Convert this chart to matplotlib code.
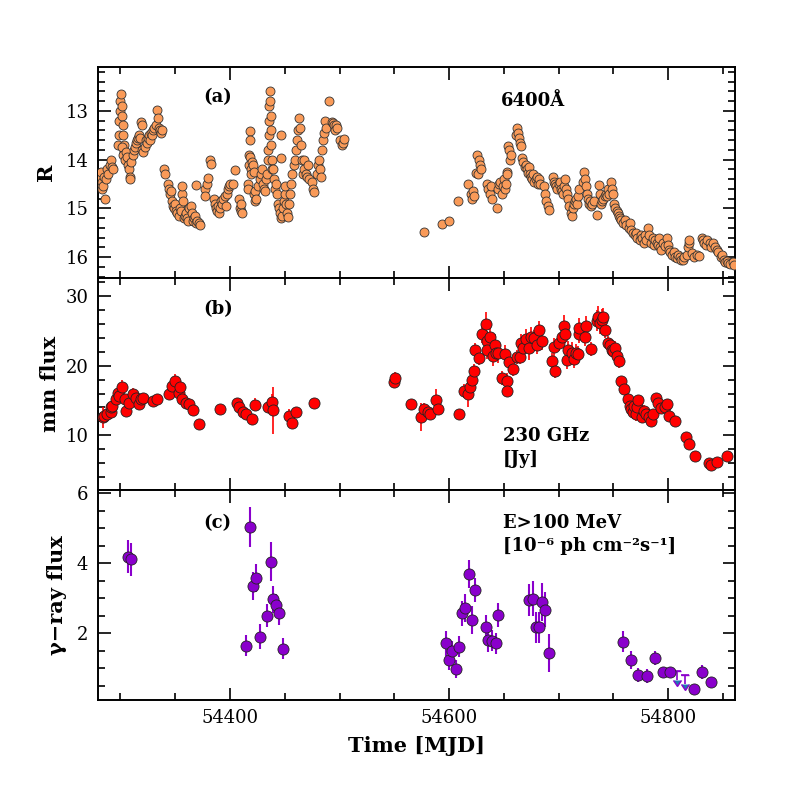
import matplotlib.pyplot as plt
from matplotlib.ticker import MultipleLocator

# (a) optical R band light curve, 6400 A
r_mjd = [54280, 54280.5, 54281, 54281.5, 54282, 54283, 54283.5, 54284, 54285, 54286, 54287, 54288, 54289, 54290, 54291, 54292, 54293,
         54298, 54298.5, 54299, 54299.5, 54300, 54300.5, 54301, 54301.5, 54302, 54302.5, 54303, 54303.5, 54301, 54302, 54304, 54305, 54306, 54307, 54308, 54308.5, 54309, 54310, 54311, 54312,
         54313, 54314, 54315, 54316, 54317, 54318, 54319, 54319.5, 54320, 54321, 54322, 54323, 54324, 54325, 54326, 54327, 54328, 54329, 54330, 54331, 54332, 54333, 54334, 54335, 54336, 54337, 54338,
         54340, 54341, 54343, 54344, 54345, 54346,
         54347, 54348, 54349, 54350, 54351, 54352, 54353, 54354, 54355, 54356, 54356.5, 54357, 54358, 54359, 54360, 54361, 54362, 54363, 54364, 54365, 54366, 54367, 54368, 54369, 54370, 54372, 54373,
         54369, 54377, 54377.5, 54379, 54380, 54382, 54382.5, 54385, 54386, 54387, 54388, 54389, 54390, 54391, 54392, 54393, 54394, 54395, 54396, 54397, 54398, 54399, 54400, 54403, 54405,
         54408, 54409, 54410, 54410.5, 54411,
         54416, 54416.5, 54417, 54417.5, 54418, 54418.5, 54418.7, 54419, 54419.5, 54420, 54421, 54421.5, 54422, 54422.5, 54423, 54424,
         54426, 54427, 54428, 54429, 54430, 54431, 54432, 54433, 54434, 54434.5, 54435, 54435.3, 54435.6, 54436, 54436.3, 54436.6, 54437, 54437.3, 54437.6, 54438, 54438.3, 54439, 54440, 54441,
         54442, 54443, 54444, 54445, 54446, 54446.5, 54446.5, 54447, 54447.5, 54448, 54449, 54450, 54450.5, 54451, 54452, 54453, 54454, 54455, 54456, 54457, 54458, 54459, 54460, 54461, 54462, 54463, 54464, 54465, 54466, 54467,
         54467.5, 54468, 54469, 54470, 54471, 54472, 54475, 54476, 54477, 54479, 54480, 54481, 54482, 54483, 54484, 54485, 54485.5, 54487, 54487.5, 54490, 54493, 54494, 54495, 54496, 54497, 54498, 54500, 54502, 54503, 54504,
         54577, 54594, 54600, 54608, 54617, 54620, 54621, 54622, 54623, 54624.5, 54626, 54626.5, 54627, 54628, 54629,
         54635, 54636, 54637, 54638, 54639, 54643.5, 54645, 54646, 54647, 54648, 54649, 54650, 54651, 54652, 54652.5, 54653, 54654, 54655, 54656, 54657,
         54661, 54662, 54663, 54664, 54665, 54666, 54667, 54668, 54669, 54670, 54671, 54672, 54673, 54674, 54675, 54676, 54677, 54678, 54679, 54680, 54681, 54682, 54683, 54687, 54688, 54689, 54690, 54691,
         54695, 54696, 54697, 54698, 54699, 54700, 54701, 54702, 54703, 54704, 54705, 54706, 54707, 54708, 54709, 54710, 54711, 54712, 54713, 54714, 54715, 54716, 54717, 54718, 54719,
         54722, 54723, 54724, 54725, 54726, 54727, 54728, 54729, 54730, 54731, 54732, 54735, 54737, 54738, 54739, 54740, 54741, 54742, 54743, 54744, 54745, 54746, 54748, 54749, 54750, 54751, 54752, 54753, 54754, 54755, 54756, 54757,
         54759, 54761, 54762, 54764, 54765, 54766, 54768, 54770, 54771, 54772, 54774, 54775, 54776, 54778, 54779, 54780, 54782, 54783, 54784, 54786, 54787, 54788, 54790, 54791, 54792, 54793, 54794, 54795, 54797, 54799, 54800,
         54801, 54802, 54804, 54805, 54806, 54808, 54809, 54811, 54812, 54814, 54815, 54817, 54818, 54819, 54819.5, 54822, 54824, 54826, 54828, 54831, 54832, 54833, 54835, 54836, 54838, 54839, 54841, 54843, 54845, 54846, 54848, 54849, 54851, 54852, 54854, 54855, 54857, 54859, 54860]
r_mag = [14.3, 14.4, 14.5, 14.35, 14.25, 14.45, 14.6, 14.55, 14.35, 14.8, 14.4, 14.2, 14.3, 14.1, 14.0, 14.15, 14.2,
         13.7, 13.5, 13.2, 13.0, 12.8, 12.65, 12.9, 13.1, 13.3, 13.5, 13.7, 13.85, 13.75, 13.9, 14.0, 13.85, 13.95, 14.1, 14.2, 14.35, 14.4, 14.05, 13.9, 13.8,
         13.75, 13.65, 13.6, 13.55, 13.5, 13.55, 13.22, 13.3, 13.8, 13.85, 13.75, 13.6, 13.65, 13.55, 13.5, 13.6, 13.45, 13.5, 13.4, 13.35, 13.3, 12.98, 13.15, 13.35, 13.4, 13.45, 13.4,
         14.2, 14.3, 14.5, 14.6, 14.7, 14.65,
         14.85, 14.95, 15.0, 14.9, 15.05, 15.1, 15.15, 15.0, 15.05, 14.7, 14.55, 14.85, 15.2, 15.15, 15.1, 15.2, 15.25, 15.0, 14.95, 15.1, 15.25, 15.2, 15.15, 15.3, 15.25, 15.3, 15.35,
         14.52, 14.6, 14.75, 14.49, 14.38, 14.0, 14.08, 14.8, 14.9, 15.0, 15.05, 14.95, 15.1, 15.0, 14.85, 14.9, 14.8, 14.75, 14.95, 14.7, 14.6, 14.55, 14.5, 14.49, 14.21,
         14.8, 15.0, 15.05, 14.9, 15.1,
         14.5, 14.6, 13.9, 14.1, 13.95, 13.42, 13.6, 14.2, 14.3, 14.05, 14.1, 14.25, 14.7, 14.85, 14.65, 14.8,
         14.55, 14.4, 14.3, 14.2, 14.5, 14.6, 14.65, 14.4, 14.3, 14.0, 13.8, 13.5, 13.2, 12.9, 12.6, 12.8, 13.1, 13.4, 13.7, 14.0, 14.2, 14.2, 14.4, 14.6,
         14.5, 14.7, 14.9, 15.0, 15.1, 13.49, 13.97, 15.2, 15.15, 15.0, 14.85, 14.7, 14.55, 14.9, 15.1, 15.17, 14.9, 14.7, 14.5, 14.3, 14.1, 14.0, 13.8, 13.6, 13.4, 13.15, 13.35, 13.7, 14.0, 14.3,
         14.0, 14.2, 14.3, 14.35, 14.1, 14.4, 14.45, 14.6, 14.66, 14.3, 14.1, 14.0, 14.2, 14.35, 13.8, 13.6, 13.45, 13.2, 13.35, 12.8, 13.22, 13.25, 13.28, 13.4, 13.3, 13.35, 13.6, 13.7, 13.65, 13.58,
         15.48, 15.31, 15.26, 14.85, 14.49, 14.7, 14.8, 14.65, 14.75, 14.28, 13.9, 14.3, 14.0, 14.1, 14.2,
         14.5, 14.6, 14.7, 14.55, 14.8, 15.0, 14.6, 14.5, 14.45, 14.7, 14.55, 14.4, 14.6, 14.5, 14.25, 14.3, 13.73, 13.8, 14.0, 13.9,
         13.5, 13.36, 13.45, 13.55, 13.65, 13.73, 13.97, 14.05, 14.15, 14.1, 14.2, 14.28, 14.15, 14.3, 14.35, 14.4, 14.3, 14.45, 14.4, 14.35, 14.5, 14.4, 14.49, 14.55, 14.7, 14.85, 14.95, 15.03,
         14.35, 14.45, 14.5, 14.55, 14.6, 14.5, 14.45, 14.6, 14.65, 14.7, 14.55, 14.4, 14.6, 14.7, 14.8, 14.95, 15.1, 15.15, 15.0, 14.9, 14.85, 14.8, 14.9, 14.75, 14.6,
         14.45, 14.25, 14.4, 14.55, 14.7, 14.8, 14.9, 14.85, 14.95, 14.9, 14.85, 15.14, 14.52, 14.7, 14.9, 14.85, 14.8, 14.75, 14.7, 14.75, 14.6, 14.7, 14.45, 14.6, 14.7, 14.9, 15.0, 15.05, 15.1, 15.15, 15.2, 15.24,
         15.3, 15.24, 15.35, 15.4, 15.3, 15.45, 15.5, 15.55, 15.5, 15.6, 15.65, 15.55, 15.6, 15.7, 15.55, 15.65, 15.4, 15.55, 15.7, 15.6, 15.75, 15.65, 15.7, 15.75, 15.6, 15.8, 15.85, 15.7, 15.78, 15.6, 15.75,
         15.85, 15.9, 15.95, 15.9, 16.0, 16.02, 15.95, 16.0, 16.05, 16.06, 16.0, 15.95, 15.8, 15.7, 15.65, 15.92, 16.0, 15.95, 15.98, 15.6, 15.65, 15.7, 15.75, 15.65, 15.7, 15.8, 15.7, 15.8, 15.85, 15.9, 16.0, 15.95, 16.05, 16.1, 16.08, 16.12, 16.15, 16.1, 16.16]

# (b) 230 GHz flux [Jy]
mm_mjd = [54284, 54285, 54288, 54291, 54291.5, 54292, 54296, 54298, 54299, 54301, 54305, 54304, 54308, 54311, 54314, 54317, 54319, 54321,
          54330, 54333, 54344, 54347, 54350, 54353, 54354, 54356, 54360, 54363, 54366, 54372, 54391, 54406, 54408, 54412, 54415, 54420, 54423,
          54435, 54438, 54439, 54454, 54457, 54460, 54477, 54550, 54551, 54565, 54574, 54577, 54581, 54582.5, 54588, 54590, 54609,
          54614, 54617, 54619, 54621, 54623, 54623.5, 54627, 54630, 54634, 54635, 54634.5, 54637, 54640, 54642, 54643, 54645,
          54648, 54653, 54652.5, 54651, 54655, 54658, 54662, 54665, 54666, 54668, 54670, 54673, 54675, 54678, 54680, 54682, 54685,
          54694, 54695.5, 54697, 54700, 54703, 54705, 54706, 54708, 54709, 54712, 54714, 54716, 54718, 54718.5, 54719, 54725, 54724.5, 54730,
          54735, 54736, 54738, 54740, 54741, 54742, 54745, 54747, 54749, 54750, 54752, 54753, 54755, 54757, 54760,
          54763, 54765, 54766, 54768, 54769, 54771, 54772, 54773, 54776, 54778, 54780, 54783, 54784, 54786,
          54789, 54791, 54794, 54797, 54799, 54801, 54806, 54816, 54819, 54825, 54837, 54839, 54845, 54854]
mm_flux = [12.6, 12.8, 13.0, 13.3, 14.0, 14.2, 15.2, 16.1, 15.7, 16.9, 13.5, 15.2, 14.7, 15.9, 15.4, 14.5, 15.2, 15.4,
           14.9, 15.2, 16.0, 17.1, 17.8, 16.1, 16.9, 15.2, 14.6, 14.5, 13.6, 11.6, 13.8, 14.7, 14.0, 13.3, 13.0, 12.3, 14.4,
           14.1, 14.8, 13.6, 12.8, 11.7, 13.4, 14.6, 17.6, 18.3, 14.5, 12.6, 13.8, 13.3, 13.1, 15.0, 13.8, 13.0,
           16.4, 16.0, 17.0, 18.0, 19.3, 22.2, 21.1, 24.5, 26.0, 23.5, 22.2, 24.2, 21.4, 23.0, 21.9, 21.9,
           18.3, 17.8, 16.4, 21.7, 20.5, 19.5, 21.2, 21.2, 23.3, 22.6, 23.8, 22.6, 24.2, 24.0, 23.0, 25.2, 23.6,
           20.7, 22.7, 19.3, 23.3, 24.2, 25.7, 24.5, 20.8, 22.3, 21.9, 20.9, 21.9, 21.7, 24.5, 25.4, 25.7, 24.1, 22.4,
           26.5, 27.0, 26.1, 26.6, 27.0, 25.2, 23.3, 23.0, 22.3, 22.1, 22.6, 21.4, 20.7, 17.8, 16.6,
           15.2, 14.2, 13.8, 13.3, 14.2, 13.0, 14.0, 15.0, 12.6, 13.5, 13.1, 12.6, 12.1, 13.1,
           15.3, 14.6, 13.9, 14.0, 14.5, 12.8, 12.1, 9.7, 8.7, 7.0, 6.0, 5.7, 6.2, 7.0]
mm_err = [1.5, 1.0, 0.8, 1.0, 0.8, 0.8, 0.8, 0.9, 0.8, 1.0, 0.7, 0.8, 0.8, 0.9, 0.8, 0.7, 0.8, 0.7,
          0.7, 0.8, 0.7, 0.8, 1.0, 0.8, 0.8, 0.8, 0.7, 0.7, 0.6, 0.5, 0.6, 0.7, 0.6, 0.6, 0.6, 0.8, 0.9,
          0.8, 1.2, 3.4, 1.0, 0.6, 0.7, 0.7, 0.8, 0.8, 0.6, 2.0, 0.8, 0.7, 0.6, 1.6, 0.7, 0.6,
          1.0, 2.0, 1.2, 1.3, 1.0, 1.0, 1.0, 1.2, 1.8, 1.5, 1.3, 1.5, 1.5, 1.5, 1.2, 1.5,
          1.0, 1.2, 0.9, 1.3, 1.2, 1.0, 1.0, 1.0, 1.3, 1.5, 1.5, 1.8, 1.4, 1.2, 1.3, 1.3, 1.3,
          1.2, 1.3, 1.0, 1.2, 1.5, 1.6, 1.3, 1.2, 1.2, 1.5, 1.2, 1.2, 1.2, 1.3, 1.5, 1.4, 1.2, 1.0,
          1.5, 1.6, 1.5, 1.6, 1.3, 1.2, 1.0, 1.0, 1.0, 1.0, 1.0, 1.0, 1.0, 0.6, 0.6,
          0.8, 1.2, 1.0, 1.0, 1.0, 0.9, 1.0, 0.8, 0.8, 0.8, 0.7, 0.7, 0.7, 0.6,
          0.6, 0.6, 0.6, 0.6, 0.6, 0.5, 0.5, 0.5, 0.5, 0.4, 0.4, 0.4, 0.4, 0.4]

# (c) gamma-ray flux E>100 MeV [1e-6 ph cm-2 s-1]
g_mjd = [54307, 54310, 54415, 54418, 54421, 54424, 54427, 54434, 54437, 54439, 54442, 54445, 54448,
         54597, 54600, 54603, 54606, 54609, 54612, 54615, 54618, 54621, 54624, 54634, 54636, 54639, 54643, 54645,
         54673, 54677, 54679, 54682, 54685, 54688, 54691,
         54759, 54766, 54773, 54781, 54788, 54795, 54802, 54824, 54831, 54839]
g_flux = [4.19, 4.11, 1.64, 5.03, 3.35, 3.57, 1.9, 2.5, 4.05, 2.97, 2.81, 2.59, 1.56,
          1.71, 1.24, 1.48, 0.98, 1.62, 2.57, 2.71, 3.7, 2.38, 3.24, 2.17, 1.81, 1.79, 1.71, 2.52,
          2.95, 2.98, 2.17, 2.17, 2.89, 2.67, 1.43,
          1.76, 1.24, 0.81, 0.79, 1.3, 0.9, 0.9, 0.4, 0.89, 0.6]
g_err = [0.47, 0.47, 0.3, 0.57, 0.4, 0.4, 0.36, 0.33, 0.55, 0.38, 0.3, 0.35, 0.3,
         0.35, 0.3, 0.3, 0.25, 0.3, 0.35, 0.4, 0.4, 0.4, 0.35, 0.35, 0.35, 0.3, 0.3, 0.35,
         0.45, 0.5, 0.45, 0.45, 0.55, 0.5, 0.55,
         0.3, 0.25, 0.2, 0.2, 0.2, 0.15, 0.15, 0.1, 0.2, 0.15]
# upper limits
ul_mjd = [54808, 54815.5]
ul_flux = [0.91, 0.8]

plt.rcParams['font.family'] = 'DejaVu Serif'
plt.rcParams['axes.linewidth'] = 1.4

purple = '#8A00CC'

fig = plt.figure(figsize=(7.97, 7.97), dpi=100)
left, width = 0.123, 0.799
ax_a = fig.add_axes([left, 0.651, width, 0.265])
ax_b = fig.add_axes([left, 0.385, width, 0.266])
ax_c = fig.add_axes([left, 0.122, width, 0.263])

ax_a.scatter(r_mjd, r_mag, s=42, c='#F99A58', edgecolors='#333333', linewidths=0.6, zorder=3)
ax_b.errorbar(mm_mjd, mm_flux, yerr=mm_err, fmt='o', ms=8, mfc='#FF0000', mec='#222222', mew=0.6,
              ecolor='#FF0000', elinewidth=1.2, capsize=0, zorder=3)
ax_c.errorbar(g_mjd, g_flux, yerr=g_err, fmt='o', ms=8, mfc=purple, mec='#222222', mew=0.6,
              ecolor=purple, elinewidth=1.5, capsize=0, zorder=3)
# upper limit symbols: horizontal bar plus downward arrow
ax_c.errorbar(ul_mjd, ul_flux, xerr=3.5, fmt='none', ecolor=purple, elinewidth=1.2, capsize=0)
ax_c.errorbar(ul_mjd, ul_flux, yerr=0.25, uplims=True, fmt='none', ecolor=purple,
              elinewidth=1.2, capsize=3)

for ax in (ax_a, ax_b, ax_c):
    ax.set_xlim(54279.5, 54861)
    ax.xaxis.set_major_locator(MultipleLocator(200))
    ax.xaxis.set_minor_locator(MultipleLocator(50))
    ax.tick_params(which='both', direction='in', top=True, right=True, labelsize=13, width=1.2, pad=7)
    ax.tick_params(which='major', length=9)
    ax.tick_params(which='minor', length=5)

ax_a.set_ylim(16.43, 12.1)
ax_a.yaxis.set_major_locator(MultipleLocator(1))
ax_a.yaxis.set_minor_locator(MultipleLocator(0.2))
ax_b.set_ylim(2.1, 32.6)
ax_b.yaxis.set_major_locator(MultipleLocator(10))
ax_b.yaxis.set_minor_locator(MultipleLocator(2))
ax_c.set_ylim(0.1, 6.09)
ax_c.yaxis.set_major_locator(MultipleLocator(2))
ax_c.yaxis.set_minor_locator(MultipleLocator(0.5))

ax_a.tick_params(labelbottom=False)
ax_b.tick_params(labelbottom=False)

lab = dict(fontsize=15, fontweight='bold')
ax_a.set_ylabel('R', labelpad=7, **lab)
ax_b.set_ylabel('mm flux', labelpad=4, **lab)
ax_c.set_ylabel('γ−ray flux', labelpad=7, **lab)
ax_c.set_xlabel('Time [MJD]', labelpad=6, **lab)

txt = dict(fontsize=13, fontweight='bold')
ax_a.text(0.188, 0.855, '(a)', transform=ax_a.transAxes, ha='center', va='center', **txt)
ax_a.text(0.683, 0.84, '6400Å', transform=ax_a.transAxes, ha='center', va='center', **txt)
ax_b.text(0.188, 0.854, '(b)', transform=ax_b.transAxes, ha='center', va='center', **txt)
ax_b.text(0.636, 0.255, '230 GHz', transform=ax_b.transAxes, ha='left', va='center', **txt)
ax_b.text(0.636, 0.146, '[Jy]', transform=ax_b.transAxes, ha='left', va='center', **txt)
ax_c.text(0.188, 0.843, '(c)', transform=ax_c.transAxes, ha='center', va='center', **txt)
ax_c.text(0.636, 0.843, 'E>100 MeV', transform=ax_c.transAxes, ha='left', va='center', **txt)
ax_c.text(0.636, 0.733, '[10⁻⁶ ph cm⁻²s⁻¹]', transform=ax_c.transAxes, ha='left', va='center', **txt)

fig.savefig('out.png', dpi=100)
